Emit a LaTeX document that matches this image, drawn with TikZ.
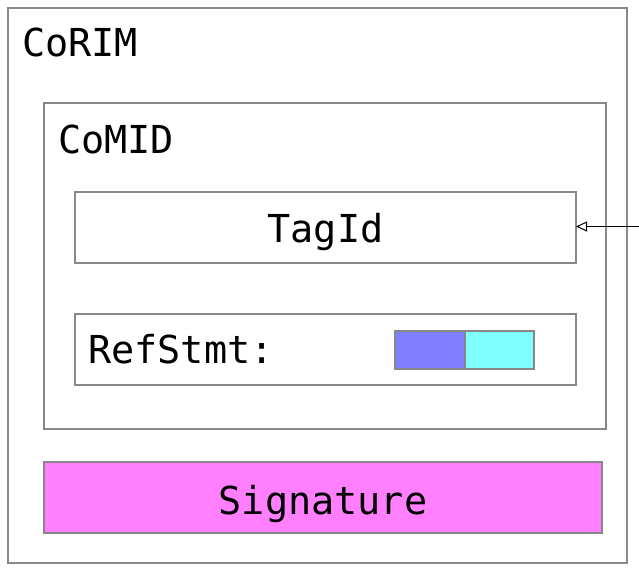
\documentclass[tikz,border=0pt]{standalone}
\usepackage{fontspec}
\setmonofont{DejaVu Sans Mono}
\usetikzlibrary{arrows.meta}
\definecolor{edgegray}{HTML}{888888}
\definecolor{fillblue}{HTML}{7F7FFF}
\definecolor{fillcyan}{HTML}{7FFFFF}
\definecolor{fillmagenta}{HTML}{FF7FFF}
\tikzset{
  box/.style={draw=edgegray, line width=1.6pt, rectangle, inner sep=0pt, outer sep=0pt},
  lbl/.style={font=\ttfamily\fontsize{38.5}{40}\selectfont, inner sep=0pt, anchor=base west},
  ctr/.style={font=\ttfamily\fontsize{38.5}{40}\selectfont, inner sep=0pt, anchor=base},
}
\begin{document}
\begin{tikzpicture}[x=1pt,y=1pt]
\useasboundingbox (0,0) rectangle (639,572);
% outer container
\node[box, minimum width=619, minimum height=555] (corim) at (317.5,286.5) {};
\node[lbl] (corimlbl) at (22,515) {CoRIM};
% inner container
\node[box, minimum width=562, minimum height=326] (comid) at (325,306) {};
\node[lbl] (comidlbl) at (58,418) {CoMID};
% tag identifier
\node[box, minimum width=501, minimum height=71] (tagid) at (325.5,344.5) {};
\node[ctr] (tagidtxt) at (325.5,329) {TagId};
% reference statements
\node[box, minimum width=501, minimum height=71] (refstmt) at (325.5,222.5) {};
\node[lbl] (reflbl) at (88,208) {RefStmt:};
\node[box, fill=fillblue, minimum width=70, minimum height=38] (refa) at (430,222) {};
\node[box, fill=fillcyan, minimum width=69, minimum height=38] (refb) at (499.5,222) {};
% signature
\node[box, fill=fillmagenta, minimum width=558, minimum height=71] (sig) at (323,74.5) {};
\node[ctr] (sigtxt) at (323,57) {Signature};
% incoming pointer
\coordinate (src) at (639,345.5);
\draw[line width=0.9pt, -{Triangle[open, length=11pt, width=10pt, line width=1pt]}] (src) -- (src -| tagid.east);
\end{tikzpicture}
\end{document}
